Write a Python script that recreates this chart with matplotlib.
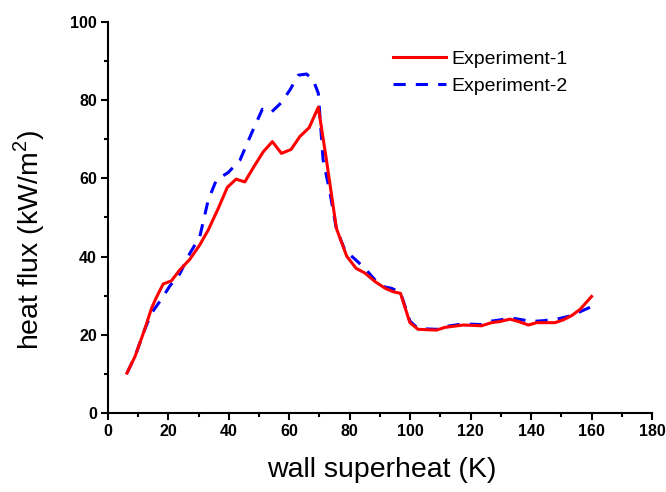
import numpy as np
import matplotlib.pyplot as plt
from matplotlib.ticker import MultipleLocator

# Experiment-1 (red, solid)
x1 = [6.3, 9, 12, 14.4, 16, 18.3, 21, 23.8, 27.1, 30.4, 33.2, 36.5, 39.5, 42.4, 45.3,
      48.3, 51.4, 54.4, 57.4, 60.6, 63.5, 66.6, 69.6, 72.3, 75.6, 79, 82.1, 85, 88.4,
      91.7, 94.4, 96.8, 99.9, 102.6, 108.7, 111.5, 117.6, 123.6, 126.9, 129.7, 133,
      135.8, 139.1, 141.8, 147.9, 150.6, 153.4, 156.2, 160]
y1 = [10.2, 14.5, 21, 26.7, 29.5, 33.0, 33.8, 36.6, 39.3, 43, 46.8, 52.3, 57.7, 59.8, 59.1,
      63, 66.8, 69.4, 66.4, 67.4, 70.7, 73, 78.2, 64.7, 47.2, 40.1, 37.0, 35.8, 33.6,
      31.9, 31.0, 30.6, 23.1, 21.4, 21.2, 21.9, 22.5, 22.3, 23.1, 23.4, 24.0,
      23.4, 22.5, 23.1, 23.1, 23.8, 24.9, 26.5, 29.8]

# Experiment-2 (blue, dashed)
x2 = [6.3, 9, 12, 14.4, 17.7, 20.5, 23.8, 27.1, 30.4, 33.2, 35.9, 39.8, 43.7, 47.5, 51.1,
      53.9, 57.4, 60.2, 63, 65.7, 67.9, 69.6, 71.2, 73.5, 75.6, 78.5, 81.5, 85, 88.4,
      91.7, 93.8, 96.8, 99.9, 102.6, 108.7, 111.5, 117.6, 123.6, 126.9, 129.7, 133,
      135.8, 140.2, 144, 148.5, 153.4, 156.2, 160]
y2 = [10.2, 14.5, 21, 25.5, 29.1, 32.5, 35.6, 40.8, 45.1, 54.5, 59.6, 61.5, 64.7, 71.5, 77.7,
      76.8, 79.4, 82.6, 86.4, 86.7, 85.2, 81.8, 64.7, 56.2, 47.0, 41.5, 39.5, 37.0, 34.0,
      32.2, 31.9, 30.8, 23.5, 21.6, 21.4, 22.1, 22.8, 22.6, 23.5, 23.8, 24.3,
      24.0, 23.4, 23.6, 24.0, 24.9, 25.9, 27.2]

plt.rcParams['font.family'] = ['Liberation Sans', 'DejaVu Sans']
plt.rcParams['mathtext.fontset'] = 'custom'
plt.rcParams['mathtext.rm'] = 'Liberation Sans'

fig = plt.figure(figsize=(6.66, 4.92), dpi=100)
ax = fig.add_axes([0.162, 0.1606, 0.817, 0.7947])

# red drawn over blue, as in the original
ax.plot(x1, y1, color='#ff0000', lw=2.2, label='Experiment-1', zorder=3)
ax.plot(x2, y2, color='#0000ff', lw=2.2, dashes=(4, 3.3), label='Experiment-2', zorder=2)

ax.set_xlim(0, 180)
ax.set_ylim(0, 100)
ax.xaxis.set_major_locator(MultipleLocator(20))
ax.xaxis.set_minor_locator(MultipleLocator(10))
ax.yaxis.set_major_locator(MultipleLocator(20))
ax.yaxis.set_minor_locator(MultipleLocator(10))

for s in ['top', 'right']:
    ax.spines[s].set_visible(False)
for s in ['left', 'bottom']:
    ax.spines[s].set_linewidth(1.5)

ax.tick_params(which='major', direction='out', length=5, width=1.5, labelsize=11.5, pad=3)
ax.tick_params(which='minor', direction='out', length=3, width=1.5)
for lab in ax.get_xticklabels() + ax.get_yticklabels():
    lab.set_fontweight('bold')

ax.set_xlabel('wall superheat (K)', fontsize=20.5)
ax.set_ylabel('heat flux (kW/m$^\\mathregular{2}$)', fontsize=20.5)
ax.xaxis.set_label_coords(0.503, -0.113)
ax.yaxis.set_label_coords(-0.112, 0.442)

ax.legend(loc='upper left', bbox_to_anchor=(0.524, 0.927), frameon=False, fontsize=14,
          handlelength=2.7, handletextpad=0.3, labelspacing=0.45,
          borderpad=0, borderaxespad=0)

fig.savefig('out.png', dpi=100)
